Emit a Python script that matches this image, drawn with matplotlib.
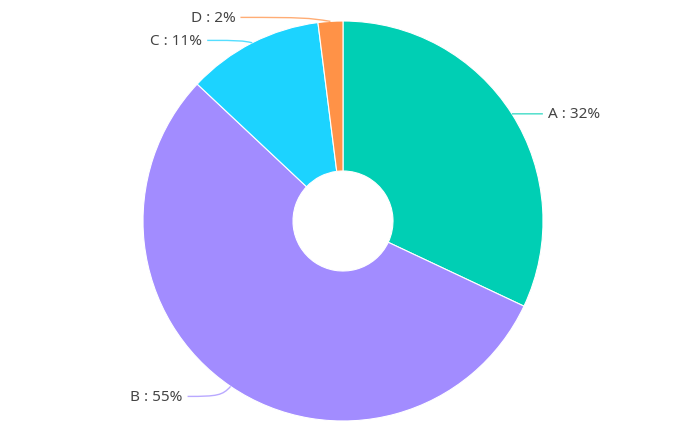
import matplotlib
matplotlib.use("Agg")
import matplotlib.pyplot as plt
import numpy as np
from matplotlib.path import Path
from matplotlib.patches import PathPatch

categories = ["A", "B", "C", "D"]
values = [32, 55, 11, 2]
colors = ["#00CFB4", "#A28CFF", "#1CD3FF", "#FF9247"]

W, H = 690, 435
cx, cy, R = 343, 222, 200

fig = plt.figure(figsize=(W / 100, H / 100), dpi=100)
ax = fig.add_axes([0, 0, 1, 1])

wedges, _ = ax.pie(values, colors=colors, startangle=90, counterclock=False,
                   radius=1.0, wedgeprops=dict(width=0.75, edgecolor="white", linewidth=0.8))
ax.set_xlim(-cx / R, (W - cx) / R)
ax.set_ylim(-(H - cy) / R, cy / R)
ax.set_aspect("equal")
ax.axis("off")

total = sum(values)
label_cfg = {
    "A": dict(knee=(0.04, 0.0), end=0.155, side=1),
    "B": dict(knee=(-0.045, -0.05), end=0.215, side=-1),
    "C": dict(knee=(-0.05, 0.012), end=0.225, side=-1),
    "D": dict(knee=(-0.12, 0.02), end=0.45, side=-1),
}
cum = 0
for cat, v, col in zip(categories, values, colors):
    mid = 90 - (cum + v / 2) / total * 360
    cum += v
    a = np.deg2rad(mid)
    p0 = np.array([np.cos(a), np.sin(a)])
    cfg = label_cfg[cat]
    p1 = p0 + np.array(cfg["knee"])
    p2 = np.array([p0[0] + cfg["side"] * cfg["end"], p1[1]])
    verts = [tuple(p0), tuple(p0 + (p1 - p0) * 0.9), tuple(p1 + np.array([cfg["side"] * 0.02, 0])), tuple(p2)]
    path = Path(verts, [Path.MOVETO, Path.CURVE4, Path.CURVE4, Path.CURVE4])
    ax.add_patch(PathPatch(path, fill=False, edgecolor=col, lw=1.0, alpha=0.75))
    ax.text(p2[0] + cfg["side"] * 0.025, p2[1], f"{cat} : {v}%",
            ha="left" if cfg["side"] > 0 else "right", va="center",
            fontsize=11, color="#444444", family="Noto Sans")

fig.savefig("out.png", dpi=100)
